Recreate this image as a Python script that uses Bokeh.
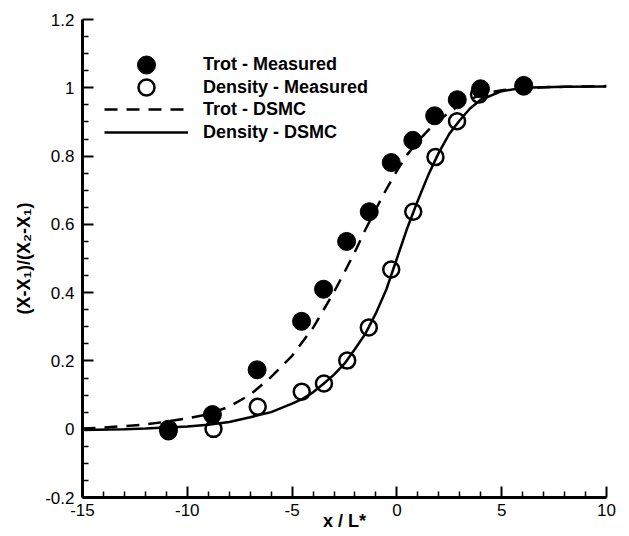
from bokeh.plotting import figure
from bokeh.models import (Range1d, FixedTicker, CustomJSTickFormatter, Legend, LegendItem)
from bokeh.embed import file_html
from bokeh.resources import INLINE

# ---- data ----
trot_meas_x = [-10.9, -8.8, -6.67, -4.55, -3.5, -2.4, -1.32, -0.27, 0.76, 1.8, 2.88, 3.99, 6.05]
trot_meas_y = [0.0, 0.043, 0.174, 0.316, 0.41, 0.55, 0.637, 0.781, 0.846, 0.918, 0.965, 0.997, 1.007]

dens_meas_x = [-10.9, -8.75, -6.64, -4.54, -3.48, -2.37, -1.34, -0.27, 0.78, 1.84, 2.87, 3.92, 6.05]
dens_meas_y = [-0.006, 0.001, 0.066, 0.11, 0.134, 0.201, 0.298, 0.468, 0.637, 0.797, 0.902, 0.98, 1.004]

trot_dsmc_x = [-15, -14, -13, -12, -11, -10, -9, -8, -7, -6, -5, -4, -3, -2.5, -2, -1.5, -1, -0.5, 0,
               0.5, 1, 1.5, 2, 3, 4, 5, 6, 8, 10]
trot_dsmc_y = [0.002, 0.005, 0.009, 0.014, 0.022, 0.032, 0.044, 0.066, 0.101, 0.153, 0.215, 0.297, 0.402,
               0.46, 0.52, 0.585, 0.645, 0.703, 0.757, 0.805, 0.843, 0.876, 0.905, 0.95, 0.981, 0.993,
               1.0, 1.003, 1.005]

dens_dsmc_x = [-15, -13, -12, -11, -10, -9, -8, -7, -6, -5, -4.5, -4, -3.5, -3, -2.5, -2, -1.5, -1, -0.5,
               0, 0.5, 1, 1.5, 2, 2.5, 3, 3.5, 4, 5, 6, 8, 10]
dens_dsmc_y = [-0.002, 0.0, 0.002, 0.005, 0.008, 0.013, 0.021, 0.035, 0.05, 0.075, 0.089, 0.108, 0.133,
               0.16, 0.192, 0.235, 0.28, 0.34, 0.41, 0.5, 0.59, 0.67, 0.745, 0.81, 0.865, 0.905, 0.94,
               0.965, 0.99, 1.0, 1.003, 1.004]

x_major = [-15, -10, -5, 0, 5, 10]
x_minor = [-14, -13, -12, -11, -9, -8, -7, -6, -4, -3, -2, -1, 1, 2, 3, 4, 6, 7, 8, 9]
y_major = [-0.2, 0, 0.2, 0.4, 0.6, 0.8, 1.0, 1.2]
y_minor = [-0.15, -0.1, -0.05, 0.05, 0.1, 0.15, 0.25, 0.3, 0.35, 0.45, 0.5, 0.55, 0.65, 0.7, 0.75,
           0.85, 0.9, 0.95, 1.05, 1.1, 1.15]

labels = ["Trot - Measured", "Density - Measured", "Trot - DSMC", "Density - DSMC"]

FONT = "Liberation Sans"

p = figure(width=629, height=536, output_backend="svg", toolbar_location=None,
           x_range=Range1d(-15, 10), y_range=Range1d(-0.2, 1.2),
           min_border_left=82, min_border_right=23, min_border_top=19, min_border_bottom=39)
p.outline_line_color = None
p.xgrid.visible = False
p.ygrid.visible = False

r_dens_dsmc = p.line(dens_dsmc_x, dens_dsmc_y, line_color="black", line_width=2.5)
r_trot_dsmc = p.line(trot_dsmc_x, trot_dsmc_y, line_color="black", line_width=2.5, line_dash="13 9")
r_dens_meas = p.scatter(dens_meas_x, dens_meas_y, marker="circle", size=16, fill_color=None,
                        line_color="black", line_width=2.5)
r_trot_meas = p.scatter(trot_meas_x, trot_meas_y, marker="circle", size=18, fill_color="black",
                        line_color="black", line_width=1)

fmt = CustomJSTickFormatter(code="return (Math.round(tick*100)/100).toString();")

for ax, maj, mino in ((p.xaxis[0], x_major, x_minor), (p.yaxis[0], y_major, y_minor)):
    ax.ticker = FixedTicker(ticks=maj, minor_ticks=mino)
    ax.formatter = fmt
    ax.axis_line_width = 3
    ax.axis_line_color = "black"
    ax.major_tick_in = 11
    ax.major_tick_out = 0
    ax.minor_tick_in = 6
    ax.minor_tick_out = 0
    ax.major_tick_line_width = 2
    ax.minor_tick_line_width = 1.5
    ax.major_tick_line_color = "black"
    ax.minor_tick_line_color = "black"
    ax.major_label_text_font = FONT
    ax.major_label_text_font_size = "17px"
    ax.major_label_text_color = "black"
    ax.axis_label_text_font = FONT
    ax.axis_label_text_font_size = "18px"
    ax.axis_label_text_font_style = "bold"
    ax.axis_label_text_color = "black"

p.xaxis[0].axis_label = "x / L*"
p.xaxis[0].major_label_standoff = 6
p.xaxis[0].axis_label_standoff = -8
p.yaxis[0].axis_label = "(X-X\u2081)/(X\u2082-X\u2081)"
p.yaxis[0].major_label_standoff = 8
p.yaxis[0].axis_label_standoff = 8

# one legend per entry so that marker sizes and row pitch can both match
entries = [
    (labels[0], r_trot_meas, 45, 410),
    (labels[1], r_dens_meas, 40, 390),
    (labels[2], r_trot_dsmc, 22, 377),
    (labels[3], r_dens_dsmc, 22, 354),
]
for lab, rend, gh, yoff in entries:
    lg = Legend(items=[LegendItem(label=lab, renderers=[rend])], location=(22, yoff))
    lg.glyph_width = 84
    lg.glyph_height = gh
    lg.label_height = gh
    lg.padding = 0
    lg.margin = 0
    lg.spacing = 0
    lg.label_standoff = 15
    lg.border_line_color = None
    lg.background_fill_alpha = 0
    lg.label_text_font = FONT
    lg.label_text_font_size = "18px"
    lg.label_text_font_style = "bold"
    lg.label_text_color = "black"
    p.add_layout(lg, "center")

open("out.html", "w").write(file_html(p, INLINE))
